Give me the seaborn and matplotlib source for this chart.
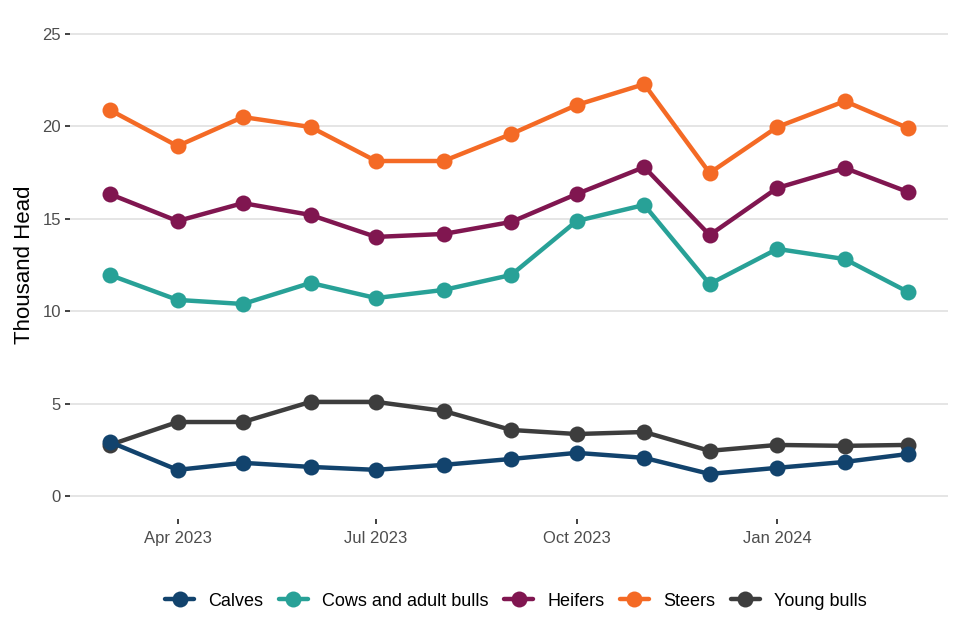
import pandas as pd
import numpy as np
import matplotlib
matplotlib.use("Agg")
import matplotlib.pyplot as plt
import matplotlib.dates as mdates
import seaborn as sns

months = pd.date_range("2023-03-01", periods=13, freq="MS")
categories = ["Calves", "Cows and adult bulls", "Heifers", "Steers", "Young bulls"]
calves = [2.92, 1.41, 1.79, 1.57, 1.41, 1.68, 2.00, 2.33, 2.06, 1.19, 1.52, 1.84, 2.27]
cows = [11.96, 10.61, 10.39, 11.53, 10.71, 11.15, 11.96, 14.88, 15.75, 11.47, 13.37, 12.82, 11.04]
heifers = [16.34, 14.88, 15.85, 15.21, 14.02, 14.18, 14.83, 16.34, 17.80, 14.12, 16.67, 17.75, 16.45]
steers = [20.89, 18.94, 20.51, 19.97, 18.13, 18.13, 19.59, 21.16, 22.29, 17.48, 19.97, 21.37, 19.91]
young_bulls = [2.76, 4.00, 4.00, 5.09, 5.09, 4.60, 3.57, 3.35, 3.46, 2.44, 2.76, 2.71, 2.76]
colors = ["#12436D", "#28A197", "#801650", "#F46A25", "#3D3D3D"]

series = [calves, cows, heifers, steers, young_bulls]
df = pd.concat([pd.DataFrame({"month": months, "value": v, "type": c})
                for c, v in zip(categories, series)], ignore_index=True)

sns.set_theme(style="white")
plt.rcParams["font.family"] = ["Liberation Sans", "DejaVu Sans"]

fig = plt.figure(figsize=(9.6, 6.4), dpi=100)
ax = fig.add_axes([70/960, 1-519/640, (948-70)/960, (519-11)/640])

palette = dict(zip(categories, colors))
sns.lineplot(data=df, x="month", y="value", hue="type", hue_order=categories,
             palette=palette, marker="o", markersize=11.5, linewidth=3.2,
             markeredgewidth=0, ax=ax, legend=True)

# Calves drawn on top
ax.lines[0].set_zorder(5)

ax.set_ylim(-1.25, 26.25)
ax.set_yticks([0, 5, 10, 15, 20, 25])
ax.yaxis.grid(True, color="#E3E3E3", linewidth=1.3)
ax.xaxis.grid(False)
ax.set_axisbelow(True)
for s in ax.spines.values():
    s.set_visible(False)

ax.xaxis.set_major_locator(mdates.MonthLocator(bymonth=[1, 4, 7, 10]))
ax.xaxis.set_major_formatter(mdates.DateFormatter("%b %Y"))
ax.margins(x=0.05)

ax.tick_params(axis="both", which="major", length=3.5, width=1.3, color="#333333",
               labelsize=12, labelcolor="#4D4D4D", pad=3, bottom=True, left=True)
ax.tick_params(axis="x", pad=5)
ax.set_xlabel("")
ax.set_ylabel("Thousand Head", fontsize=16, color="black", labelpad=5)

handles, labels = ax.get_legend_handles_labels()
ax.get_legend().remove()
leg = fig.legend(handles, labels, loc="center", bbox_to_anchor=(516/960, 1-601/640),
                 ncol=5, frameon=False, fontsize=13, handlelength=1.6,
                 handletextpad=0.8, columnspacing=0.85)
for t in leg.get_texts():
    t.set_color("black")

fig.savefig("out.png", dpi=100)
